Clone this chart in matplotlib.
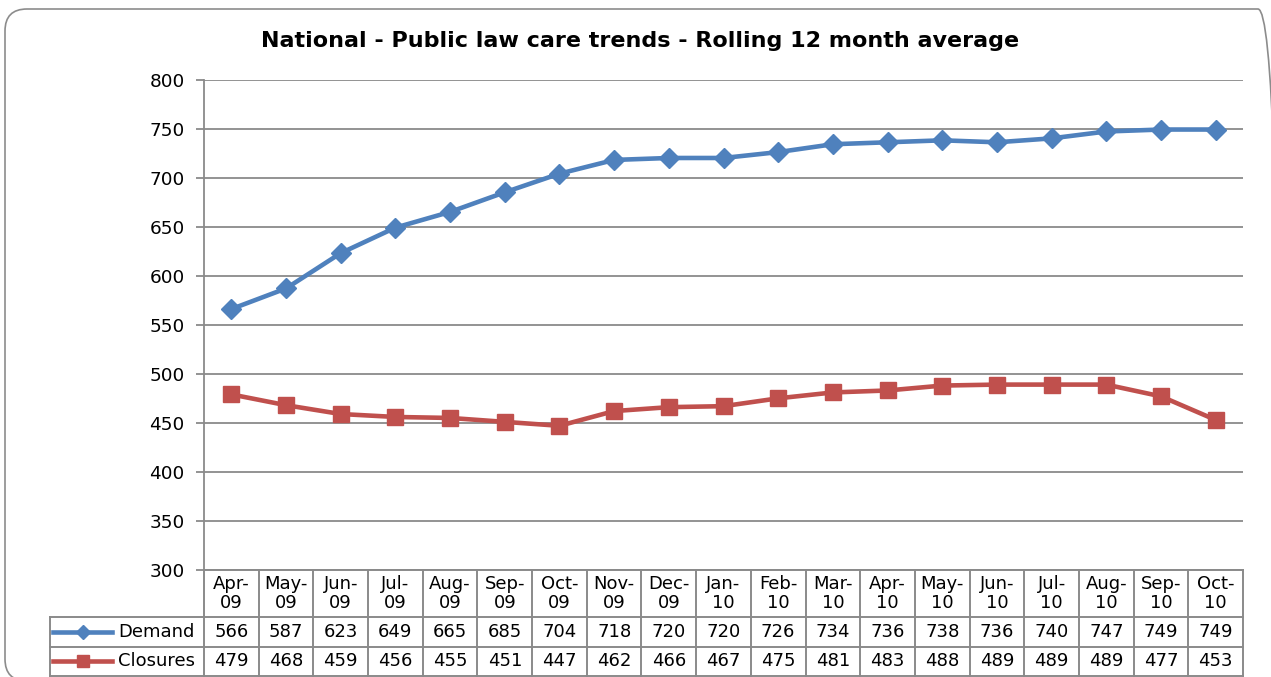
import matplotlib
matplotlib.use("Agg")
import matplotlib.pyplot as plt
import matplotlib.transforms as mtransforms
from matplotlib.patches import FancyBboxPatch

months = ["Apr-\n09", "May-\n09", "Jun-\n09", "Jul-\n09", "Aug-\n09", "Sep-\n09", "Oct-\n09",
          "Nov-\n09", "Dec-\n09", "Jan-\n10", "Feb-\n10", "Mar-\n10", "Apr-\n10", "May-\n10",
          "Jun-\n10", "Jul-\n10", "Aug-\n10", "Sep-\n10", "Oct-\n10"]
demand = [566, 587, 623, 649, 665, 685, 704, 718, 720, 720, 726, 734, 736, 738, 736, 740, 747, 749, 749]
closures = [479, 468, 459, 456, 455, 451, 447, 462, 466, 467, 475, 481, 483, 488, 489, 489, 489, 477, 453]
series_names = ["Demand", "Closures"]
yticks = [300, 350, 400, 450, 500, 550, 600, 650, 700, 750, 800]
title = "National - Public law care trends - Rolling 12 month average"

plt.rcParams['font.family'] = ['DejaVu Sans']

W, H = 1271, 677
fig = plt.figure(figsize=(W / 100, H / 100), dpi=100)

# rounded border (coordinates in inches: 1 inch = 100 px)
border = FancyBboxPatch((0.05, -0.04), 12.8 - 0.05, H / 100 - 0.09 + 0.04,
                        boxstyle="round,pad=0,rounding_size=0.22",
                        transform=fig.dpi_scale_trans, facecolor="none",
                        edgecolor="#8c8c8c", linewidth=1.2, zorder=-5)
fig.patches.append(border)

left, right, top, bottom = 204, 1243, 79.5, 570
ph = bottom - top
ax = fig.add_axes([left / W, 1 - bottom / H, (right - left) / W, ph / H])
ax.set_facecolor("none")

blue = "#4F81BD"
red = "#C0504D"
x = list(range(len(months)))
ax.plot(x, demand, color=blue, lw=3.3, marker="D", markersize=10, zorder=3)
ax.plot(x, closures, color=red, lw=3.3, marker="s", markersize=11.5, zorder=3)

n = len(months)
ax.set_xlim(-0.5, n - 0.5)
ax.set_ylim(300, 800)
ax.set_yticks(yticks)
ax.set_yticklabels([str(v) for v in yticks], fontsize=13.3)
ax.set_xticks([])
ax.grid(axis="y", color="#8a8a8a", lw=1.3)
ax.set_axisbelow(True)
for s in ["top", "right", "bottom"]:
    ax.spines[s].set_visible(False)
ax.spines["left"].set_color("#8a8a8a")
ax.spines["left"].set_linewidth(1.3)
ax.tick_params(axis="y", length=6, color="#8a8a8a", width=1.3, pad=8)

fig.text(640 / W, 1 - 41 / H, title, ha="center", va="center", fontsize=16, fontweight="bold")

# data table drawn under the axes
trans = mtransforms.blended_transform_factory(ax.transData, ax.transAxes)
colw = (right - left) / n
lab_left = -0.5 - (left - 50) / colw
h_head, h_row = 47, 29.5
y0 = 0.0
y1 = -h_head / ph
y2 = -(h_head + h_row) / ph
y3 = -(h_head + 2 * h_row) / ph
edge = "#8a8a8a"
lw = 1.4
ax.plot([-0.5, n - 0.5], [y0, y0], color=edge, lw=lw, transform=trans, clip_on=False)
for yy in (y1, y2, y3):
    ax.plot([lab_left, n - 0.5], [yy, yy], color=edge, lw=lw, transform=trans, clip_on=False)
ax.plot([lab_left, lab_left], [y1, y3], color=edge, lw=lw, transform=trans, clip_on=False)
for i in range(n + 1):
    ax.plot([i - 0.5, i - 0.5], [y0, y3], color=edge, lw=lw, transform=trans, clip_on=False)

fs = 13
for i, m in enumerate(months):
    ax.text(i, (y0 + y1) / 2, m, ha="center", va="center", fontsize=fs, linespacing=1.05,
            transform=trans, clip_on=False)
for r, (vals, name) in enumerate(zip([demand, closures], series_names)):
    yc = [(y1 + y2) / 2, (y2 + y3) / 2][r]
    for i, v in enumerate(vals):
        ax.text(i, yc, str(v), ha="center", va="center", fontsize=fs, transform=trans, clip_on=False)
    ax.text(-0.5 - 9 / colw, yc, name, ha="right", va="center", fontsize=fs, transform=trans, clip_on=False)

# legend keys in row labels
for r, (col, mk, ms) in enumerate([(blue, "D", 7), (red, "s", 9)]):
    yc = [(y1 + y2) / 2, (y2 + y3) / 2][r]
    kx0 = lab_left + 3 / colw
    kx1 = lab_left + 62 / colw
    ax.plot([kx0, kx1], [yc, yc], color=col, lw=3.3, transform=trans, clip_on=False)
    ax.plot([(kx0 + kx1) / 2], [yc], color=col, marker=mk, markersize=ms, transform=trans, clip_on=False)

fig.savefig("out.png", dpi=100)
